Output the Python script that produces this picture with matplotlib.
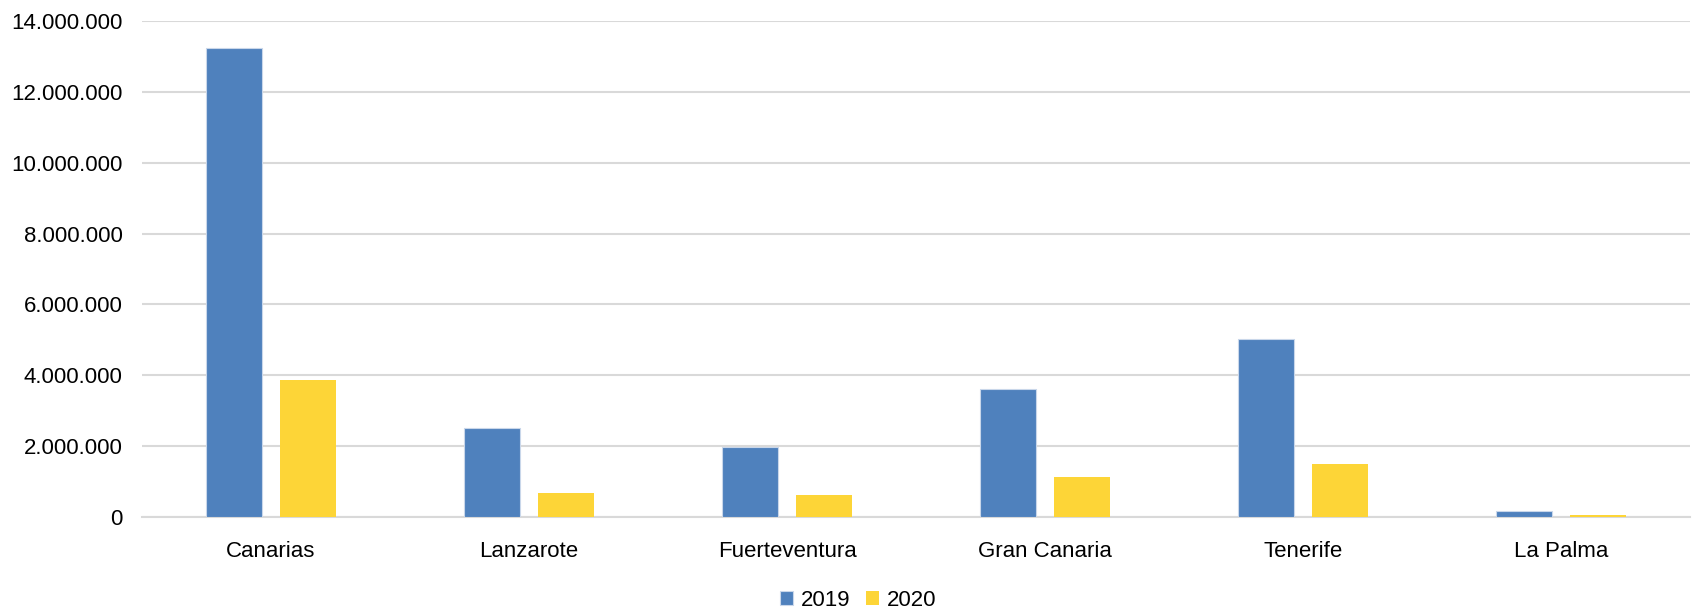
import matplotlib
matplotlib.use("Agg")
import matplotlib.pyplot as plt
import numpy as np
from matplotlib.ticker import FuncFormatter, MultipleLocator

categories = ["Canarias", "Lanzarote", "Fuerteventura", "Gran Canaria", "Tenerife", "La Palma"]
values_2019 = [13230000, 2500000, 1980000, 3620000, 5020000, 180000]
values_2020 = [3860000, 670000, 610000, 1130000, 1490000, 60000]
series_labels = ["2019", "2020"]

plt.rcParams['font.family'] = ['Liberation Sans', 'DejaVu Sans']

fig = plt.figure(figsize=(16.94, 6.12), dpi=100)
ax = fig.add_axes([142/1694, 1-517/612, (1690-142)/1694, (517-21)/612])

x = np.arange(len(categories))
w = 0.22
off = 0.143
b1 = ax.bar(x - off, values_2019, width=w, color="#4F81BD", edgecolor="#c9d7ea", linewidth=0.8, label=series_labels[0], zorder=3)
b2 = ax.bar(x + off, values_2020, width=w, color="#FDD537", label=series_labels[1], zorder=3)

ax.set_xlim(-0.5, len(categories) - 0.5)
ax.set_ylim(0, 14000000)
ax.yaxis.set_major_locator(MultipleLocator(2000000))
ax.yaxis.set_major_formatter(FuncFormatter(lambda v, p: f"{int(v):,}".replace(",", ".")))
ax.grid(axis='y', color="#d9d9d9", linewidth=1.5, zorder=0)
for s in ["top", "right", "left"]:
    ax.spines[s].set_visible(False)
ax.spines["bottom"].set_color("#d9d9d9")
ax.spines["bottom"].set_linewidth(1.5)
ax.set_xticks(x)
ax.set_xticklabels(categories)
ax.tick_params(axis='both', length=0, labelsize=16, colors="#000000")
ax.tick_params(axis='y', pad=14)
ax.tick_params(axis='x', pad=17)

fig.legend(handles=[b1, b2], labels=series_labels, loc="center", bbox_to_anchor=(858/1694, 1-600/612),
           ncol=2, frameon=False, fontsize=16, handlelength=0.6, handleheight=0.6,
           handletextpad=0.35, columnspacing=0.7)

fig.savefig("out.png", dpi=100)
